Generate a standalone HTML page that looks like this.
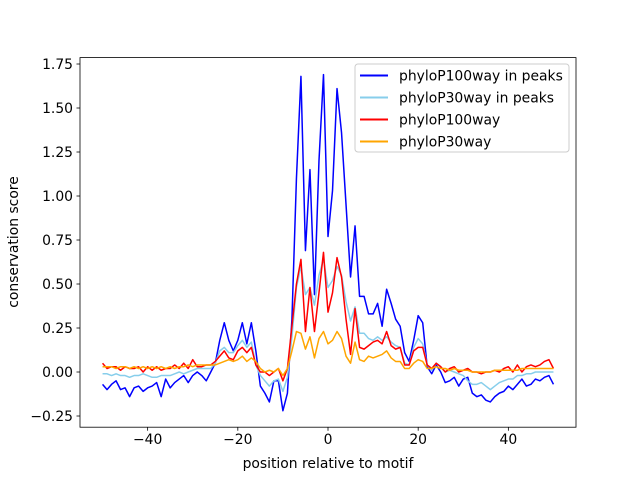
<!DOCTYPE html>
<html><head><meta charset="utf-8"><style>
body{margin:0;background:#fff;}
svg{display:block;font-family:"DejaVu Sans","Liberation Sans",sans-serif;}
</style></head><body>
<svg id="chart" width="640" height="480" viewBox="0 0 640 480">
<rect x="0" y="0" width="640" height="480" fill="#fff"/>
<g id="plot"></g>
<g id="axes"></g>
<text x="328" y="468" font-size="13.9" text-anchor="middle" fill="#000">position relative to motif</text>
<text x="18" y="242" font-size="13.9" text-anchor="middle" fill="#000" transform="rotate(-90 18 242)">conservation score</text>
<g id="legend"></g>
</svg>
<script>
const blueP100 = [-0.07,-0.10,-0.07,-0.05,-0.10,-0.09,-0.14,-0.09,-0.08,-0.11,-0.09,-0.08,-0.06,-0.14,-0.04,-0.09,-0.06,-0.04,-0.02,-0.06,-0.02,0.0,-0.02,
-0.05,0.0,0.05,0.18,0.28,0.18,0.12,0.18,0.28,0.16,0.28,0.12,-0.08,-0.12,-0.17,-0.05,-0.05,-0.22,-0.12,
0.3,1.1,1.68,0.69,1.15,0.44,1.2,1.69,0.77,1.03,1.61,1.36,0.95,0.54,0.83,0.43,0.43,0.33,0.33,0.39,0.26,0.47,0.39,0.30,0.26,0.11,0.06,0.18,0.32,0.28,0.03,-0.01,
0.04,0.0,-0.06,-0.05,-0.03,-0.08,-0.04,-0.03,-0.12,-0.14,-0.13,-0.16,-0.17,-0.14,-0.12,-0.11,-0.08,-0.10,-0.07,-0.04,-0.08,-0.07,-0.04,-0.05,-0.03,-0.02,-0.07];
const lightP30 = [-0.01,-0.01,-0.02,-0.01,-0.02,-0.02,-0.03,-0.02,-0.02,-0.01,-0.02,-0.03,-0.03,-0.02,-0.02,-0.02,-0.01,0.0,-0.01,0.0,0.01,0.02,0.02,
0.02,0.02,0.05,0.12,0.14,0.11,0.11,0.15,0.18,0.14,0.17,0.04,-0.02,-0.05,-0.08,-0.05,-0.04,-0.11,-0.03,
0.2,0.48,0.6,0.44,0.48,0.38,0.55,0.64,0.48,0.52,0.6,0.55,0.4,0.29,0.37,0.22,0.22,0.19,0.18,0.2,0.18,0.2,0.17,0.15,0.14,0.05,0.04,0.14,0.19,0.16,0.04,0.01,
0.05,0.03,0.0,0.01,0.0,-0.01,-0.02,-0.05,-0.07,-0.07,-0.06,-0.08,-0.10,-0.08,-0.06,-0.05,-0.04,-0.04,-0.02,-0.02,-0.01,-0.01,0.0,0.0,0.0,0.0,0.0];
const redP100 = [0.05,0.02,0.03,0.03,0.01,0.03,0.02,0.02,0.03,0.0,0.03,0.01,0.03,0.01,0.02,0.02,0.04,0.02,0.05,0.02,0.07,0.03,0.03,
0.04,0.04,0.06,0.09,0.12,0.08,0.07,0.12,0.14,0.11,0.14,0.04,0.0,0.0,-0.02,0.0,0.02,-0.05,0.02,
0.26,0.5,0.64,0.23,0.48,0.23,0.45,0.68,0.34,0.45,0.65,0.54,0.30,0.10,0.36,0.14,0.13,0.15,0.17,0.18,0.16,0.23,0.15,0.13,0.14,0.04,0.04,0.12,0.14,0.14,0.04,0.02,
0.05,0.03,0.0,0.02,0.03,0.0,0.01,0.02,0.0,0.0,-0.01,0.0,0.0,0.01,0.0,0.02,0.03,0.0,0.04,0.0,0.03,0.04,0.03,0.04,0.06,0.07,0.02];
const orangeP30 = [0.03,0.03,0.03,0.02,0.03,0.03,0.02,0.03,0.02,0.03,0.02,0.03,0.02,0.03,0.02,0.03,0.02,0.03,0.03,0.04,0.03,0.04,0.04,
0.04,0.04,0.04,0.05,0.06,0.07,0.06,0.07,0.09,0.06,0.08,0.06,0.02,0.0,0.01,0.0,0.02,-0.02,0.02,
0.12,0.23,0.22,0.13,0.2,0.08,0.19,0.23,0.16,0.18,0.23,0.19,0.09,0.05,0.17,0.07,0.06,0.09,0.08,0.09,0.1,0.12,0.08,0.06,0.06,0.02,0.02,0.05,0.07,0.06,0.02,0.02,
0.03,0.02,0.02,0.01,0.02,0.01,0.01,0.01,0.0,0.0,0.0,0.0,0.0,0.01,0.01,0.01,0.01,0.01,0.01,0.02,0.02,0.02,0.02,0.02,0.02,0.02,0.02];
const xStart = -50;
const xTicks = [-40,-20,0,20,40];
const yTicks = [-0.25,0,0.25,0.5,0.75,1.0,1.25,1.5,1.75];
const yTickLabels = ["\u22120.25","0.00","0.25","0.50","0.75","1.00","1.25","1.50","1.75"];
const xTickLabels = ["\u221240","\u221220","0","20","40"];
const seriesNames = ["phyloP100way in peaks","phyloP30way in peaks","phyloP100way","phyloP30way"];

const L=80,R=576,T=57.6,B=427.2;
const xMin=-55,xMax=55,yMin=-0.3136,yMax=1.7864;
const sx=v=>L+(v-xMin)/(xMax-xMin)*(R-L);
const sy=v=>B-(v-yMin)/(yMax-yMin)*(B-T);
const NS="http://www.w3.org/2000/svg";
function mk(tag,attrs,parent){const e=document.createElementNS(NS,tag);for(const k in attrs)e.setAttribute(k,attrs[k]);parent.appendChild(e);return e;}
const plot=document.getElementById('plot'),axes=document.getElementById('axes'),leg=document.getElementById('legend');
const series=[[blueP100,'#0000ff','series-phylop100-peaks'],[lightP30,'#87ceeb','series-phylop30-peaks'],[redP100,'#ff0000','series-phylop100'],[orangeP30,'#ffa500','series-phylop30']];
series.forEach(s=>{
  const d=s[0].map((v,i)=>(i?'L':'M')+sx(xStart+i).toFixed(2)+','+sy(v).toFixed(2)).join(' ');
  const p=mk('path',{d:d,fill:'none',stroke:s[1],'stroke-width':1.5,'stroke-linejoin':'round'},plot);
  
  
});
const frame=mk('rect',{x:L,y:T,width:R-L,height:B-T,fill:'none',stroke:'#000','stroke-width':0.8},axes);


xTicks.forEach((t,i)=>{
  const x=sx(t);
  const tk=mk('line',{x1:x,x2:x,y1:B,y2:B+3.5,stroke:'#000','stroke-width':0.8},axes);
  
  
  const tx=mk('text',{x:x,y:B+17,'font-size':13.9,'text-anchor':'middle',fill:'#000'},axes);
  tx.textContent=xTickLabels[i];
  
  
});
yTicks.forEach((t,i)=>{
  const y=sy(t);
  const tk=mk('line',{x1:L-3.5,x2:L,y1:y,y2:y,stroke:'#000','stroke-width':0.8},axes);
  
  
  const tx=mk('text',{x:L-7,y:y+5,'font-size':13.9,'text-anchor':'end',fill:'#000'},axes);
  tx.textContent=yTickLabels[i];
  
  
});
const box=mk('rect',{x:355,y:64,width:214,height:88,rx:3,fill:'#fff','fill-opacity':0.8,stroke:'#ccc','stroke-width':1},leg);


seriesNames.forEach((n,i)=>{
  const y=75.5+i*22;
  const ln=mk('line',{x1:360,x2:388,y1:y,y2:y,stroke:series[i][1],'stroke-width':2},leg);
  
  
  const tx=mk('text',{x:399,y:y+5,'font-size':13.9,fill:'#000'},leg);
  tx.textContent=n;
  
  
});
</script>
</body></html>
